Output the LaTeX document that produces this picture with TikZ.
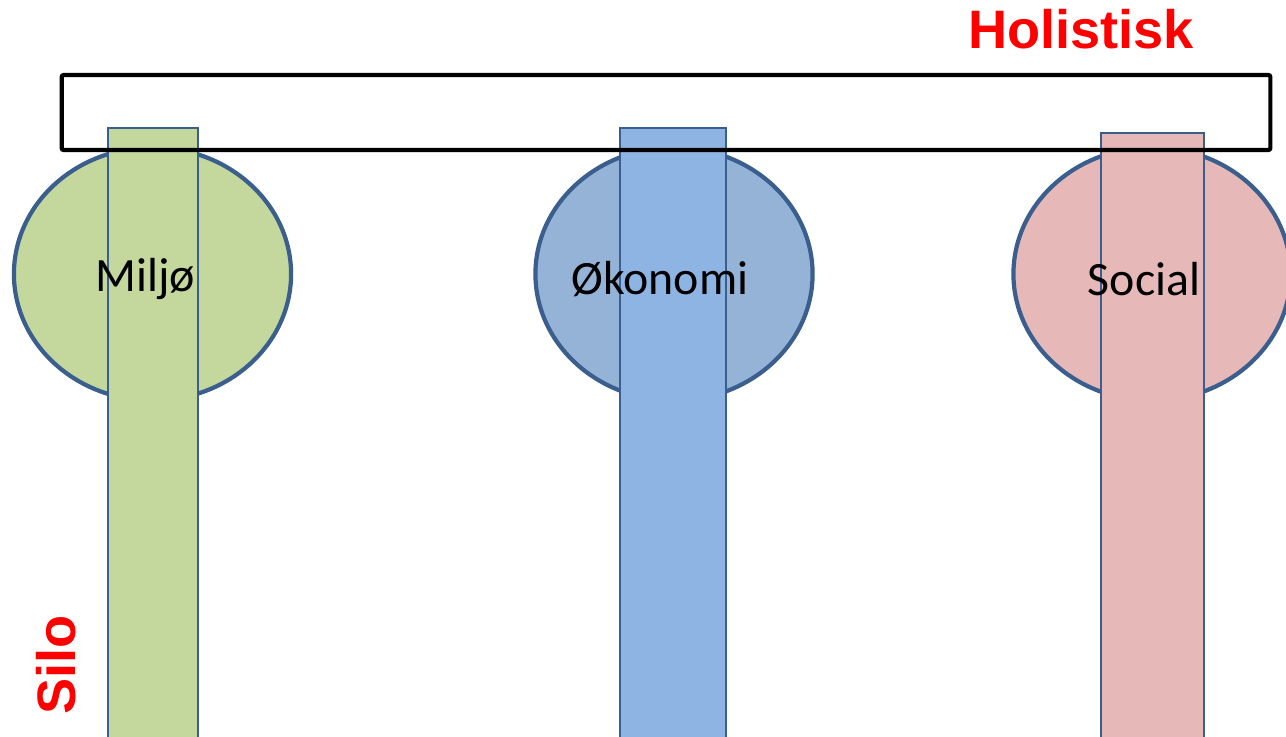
\documentclass[tikz,border=0pt]{standalone}
\usepackage{fontspec}
\setmainfont{Carlito}
\newfontfamily\headfont{Liberation Sans}
\usetikzlibrary{positioning, shapes.geometric}

\definecolor{rimblue}{HTML}{3A5F8E}
\definecolor{greenfill}{HTML}{C4D79C}
\definecolor{bluefill}{HTML}{95B3D7}
\definecolor{barblue}{HTML}{8EB4E3}
\definecolor{pinkfill}{HTML}{E6B8B7}

\tikzset{
  area/.style={ellipse, draw=rimblue, line width=1.2pt,
    minimum width=2.77cm, minimum height=2.53cm, inner sep=0pt},
  bar/.style={rectangle, draw=rimblue, line width=0.45pt, inner sep=0pt},
  frame/.style={rectangle, draw=black, line width=1.2pt, rounded corners=0.6pt,
    minimum width=12.08cm, minimum height=0.75cm, inner sep=0pt},
  label/.style={font=\fontsize{13.6}{15}\selectfont, inner sep=0pt},
  tag/.style={font=\headfont\bfseries\fontsize{15.4}{17}\selectfont, text=red, inner sep=0pt}
}

\begin{document}
\begin{tikzpicture}[x=0.01cm, y=-0.01cm]
        \useasboundingbox (0,0) rectangle (1286,736);
        % ellipses
        \node[area, fill=greenfill] (miljo)   at (152.5, 274) {};
        \node[area, fill=bluefill]  (okonomi) at (674, 274) {};
        \node[area, fill=pinkfill]  (social)  at (1152, 274) {};
        % bars
        \node[bar, fill=greenfill, minimum width=0.9cm,  minimum height=6.14cm] (miljo-bar)   at (153, 435) {};
        \node[bar, fill=barblue,   minimum width=1.06cm, minimum height=6.14cm] (okonomi-bar) at (673, 435) {};
        \node[bar, fill=pinkfill,  minimum width=1.03cm, minimum height=6.09cm] (social-bar)  at (1152.5, 437.5) {};
        % labels
        \node[label] (miljo-txt)   at (145, 279)  {Miljø};
        \node[label] (okonomi-txt) at (660, 279)  {Økonomi};
        \node[label] (social-txt)  at (1144, 279) {Social};
        % holistic frame
        \node[frame] (holist) at (666, 112.5) {};
        \node[tag] (holist-txt) at (1081, 29) {Holistisk};
        \node[tag, rotate=90] (silo-txt) at (56, 665) {Silo};
\end{tikzpicture}
\end{document}
